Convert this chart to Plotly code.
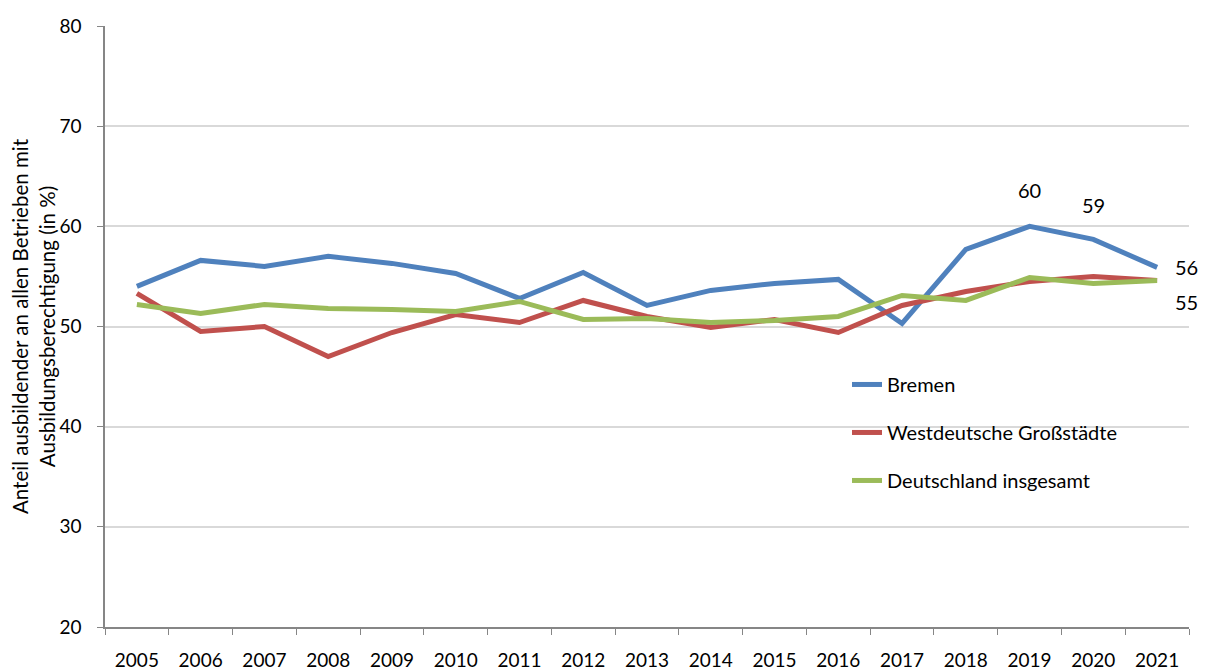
import plotly.graph_objects as go

years = [str(y) for y in range(2005, 2022)]
bremen = [54.0, 56.6, 56.0, 57.0, 56.3, 55.3, 52.8, 55.4, 52.1, 53.6, 54.3, 54.7, 50.3, 57.7, 60.0, 58.7, 55.9]
west = [53.3, 49.5, 50.0, 47.0, 49.4, 51.2, 50.4, 52.6, 51.0, 49.9, 50.7, 49.4, 52.1, 53.5, 54.5, 55.0, 54.6]
deutschland = [52.2, 51.3, 52.2, 51.8, 51.7, 51.5, 52.5, 50.7, 50.8, 50.4, 50.6, 51.0, 53.1, 52.6, 54.9, 54.3, 54.6]

series_names = ["Bremen", "Westdeutsche Großstädte", "Deutschland insgesamt"]
colors = ["#4F81BD", "#C0504D", "#9BBB59"]

FONT = "Lato"

fig = go.Figure()
for i, (name, vals, col) in enumerate(zip(series_names, [bremen, west, deutschland], colors)):
    fig.add_trace(go.Scatter(
        x=years, y=vals, name=name, mode="lines",
        line=dict(color=col, width=5),
        legendgroup=f"g{i}",
    ))

# data labels (x given as category index)
labels = [
    (14, bremen[14], f"{bremen[14]:.0f}", 0, 36, "center"),
    (15, bremen[15], f"{bremen[15]:.0f}", 0, 34, "center"),
    (16, bremen[16], f"{bremen[16]:.0f}", 16, 0, "left"),
    (16, deutschland[16], f"{deutschland[16]:.0f}", 16, -22, "left"),
]
for x, y, t, xs, ys, xa in labels:
    fig.add_annotation(x=x, y=y, text=t, showarrow=False, xshift=xs, yshift=ys,
                       xanchor=xa, yanchor="middle",
                       font=dict(family=FONT, size=20, color="black"))

fig.update_layout(
    width=1207, height=669,
    margin=dict(l=97, r=26, t=18, b=50),
    paper_bgcolor="white", plot_bgcolor="white",
    font=dict(family=FONT, size=19, color="black"),
    showlegend=True,
    legend=dict(x=0.6845, y=0.436, xanchor="left", yanchor="top",
                bgcolor="rgba(0,0,0,0)", tracegroupgap=19,
                font=dict(family=FONT, size=20, color="black")),
)
fig.update_xaxes(
    type="category", range=[-0.5, len(years) - 0.5], autorange=False,
    tickson="boundaries", ticks="outside", ticklen=6, tickangle=0,
    tickcolor="#868686", showline=True, linecolor="#868686", linewidth=1.5,
    showgrid=False, tickfont=dict(family=FONT, size=19, color="black"),
    ticklabelstandoff=15, automargin=False,
)
fig.update_yaxes(
    range=[20, 80], autorange=False, dtick=10, ticks="outside", ticklen=6, tickcolor="#868686",
    showline=True, linecolor="#868686", linewidth=1.5,
    showgrid=True, gridcolor="#D9D9D9", gridwidth=1.5,
    tickfont=dict(family=FONT, size=19, color="black"),
    ticklabelstandoff=12, automargin=False,
    title=dict(text="Anteil ausbildender an allen Betrieben mit<br>Ausbildungsberechtigung (in %)",
               font=dict(family=FONT, size=20.5, color="black"), standoff=10),
)

fig.write_html("out.html")
